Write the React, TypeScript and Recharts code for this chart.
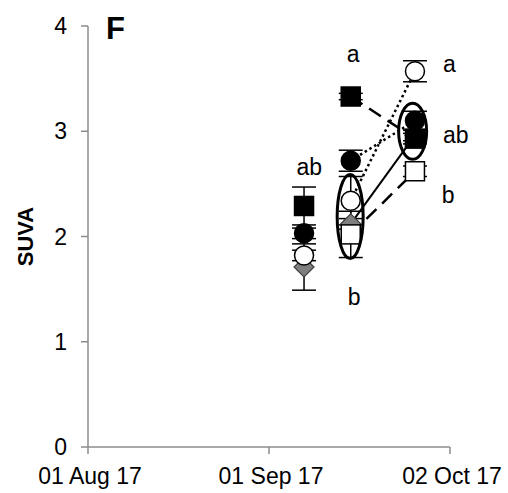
import React from "react";
import { ScatterChart, Scatter, XAxis, YAxis, ErrorBar } from "recharts";

// sampling days, counted from 01 Aug 17
const days = [37, 45, 56];
const dateTicks = [0, 31, 62];
const dateLabels = ["01 Aug 17", "01 Sep 17", "02 Oct 17"];
const suvaTicks = [0, 1, 2, 3, 4];

const filledSquare = [2.29, 3.33, 2.93];
const filledSquareErr = [0.18, 0.03, 0.05];
const filledCircle = [2.03, 2.72, 3.1];
const filledCircleErr = [0.05, 0.1, 0.09];
const openCircle = [1.82, 2.34, 3.57];
const openCircleErr = [0.05, 0.23, 0.1];
const diamond = [1.71, 2.12, 2.96];
const diamondErr = [0.22, 0.05, 0.05];
const openSquare = [null, 2.02, 2.62];
const openSquareErr = [null, 0.22, 0.05];

// significance letters (left edge, baseline)
const letterText = ["a", "a", "ab", "b", "ab", "b"];
const letterDay = [44.3, 60.8, 60.8, 60.6, 35.7, 44.5];
const letterValue = [3.654, 3.56, 2.892, 2.32, 2.588, 1.35];

// circled groups
const ringDay = [44.9, 55.6];
const ringValue = [2.19, 3.0];
const ringSize = [
  { rx: 13, ry: 42 },
  { rx: 14, ry: 28 },
];

const font = "'Liberation Sans', Arial, sans-serif";
const axisGrey = "#8c8c8c";

const toPoints = (vals: (number | null)[], errs: (number | null)[]) =>
  days
    .map((d, i) => ({ day: d, v: vals[i], err: errs[i] }))
    .filter((p) => p.v != null);

const letters = letterText.map((t, i) => ({ day: letterDay[i], v: letterValue[i], text: t }));
const rings = ringDay.map((d, i) => ({ day: d, v: ringValue[i], idx: i }));

const circleShape = (fill: string) => (p: any) =>
  <circle cx={p.cx} cy={p.cy} r={9.5} fill={fill} stroke="#000" strokeWidth={1.5} />;

const squareShape = (fill: string) => (p: any) =>
  <rect x={p.cx - 9.5} y={p.cy - 9.5} width={19} height={19} fill={fill} stroke="#000" strokeWidth={1.5} />;

const diamondShape = (p: any) => (
  <polygon
    points={`${p.cx},${p.cy - 10} ${p.cx + 10},${p.cy} ${p.cx},${p.cy + 10} ${p.cx - 10},${p.cy}`}
    fill="#7f7f7f"
    stroke="#404040"
    strokeWidth={1.2}
  />
);

const noShape = () => <g />;

const App: React.FC = () => {
  const series = [
    { vals: diamond, errs: diamondErr, shape: diamondShape, line: { stroke: "#000", strokeWidth: 2 } },
    { vals: openSquare, errs: openSquareErr, shape: squareShape("#fff"), line: { stroke: "#000", strokeWidth: 2.5, strokeDasharray: "14 8" } },
    { vals: openCircle, errs: openCircleErr, shape: circleShape("#fff"), line: { stroke: "#000", strokeWidth: 2.5, strokeDasharray: "2.5 3" } },
    { vals: filledCircle, errs: filledCircleErr, shape: circleShape("#000"), line: { stroke: "#000", strokeWidth: 2.5, strokeDasharray: "2.5 3" } },
    { vals: filledSquare, errs: filledSquareErr, shape: squareShape("#000"), line: { stroke: "#000", strokeWidth: 2.5, strokeDasharray: "14 8" } },
  ];

  return (
    <div style={{ position: "absolute", left: 0, top: 0, width: 508, height: 493, fontFamily: font, background: "#fff" }}>
      <ScatterChart width={508} height={493} margin={{ top: 26, right: 58, bottom: 0, left: 0 }}>
        <XAxis
          type="number"
          dataKey="day"
          domain={[0, 62]}
          ticks={dateTicks}
          interval={0}
          tickFormatter={(d: number) => dateLabels[dateTicks.indexOf(d)]}
          height={46}
          tickSize={7}
          tickMargin={14}
          axisLine={{ stroke: axisGrey, strokeWidth: 1.5 }}
          tickLine={{ stroke: axisGrey, strokeWidth: 1.5 }}
          tick={{ fill: "#000", fontSize: 23, fontFamily: font, dx: 2 }}
        />
        <YAxis
          type="number"
          dataKey="v"
          domain={[0, 4]}
          ticks={suvaTicks}
          interval={0}
          width={88}
          tickSize={7}
          tickMargin={14}
          axisLine={{ stroke: axisGrey, strokeWidth: 1.5 }}
          tickLine={{ stroke: axisGrey, strokeWidth: 1.5 }}
          tick={{ fill: "#000", fontSize: 23, fontFamily: font }}
          label={(props: any) => {
            const vb = props.viewBox;
            const x = vb.x + 25;
            const y = vb.y + vb.height / 2;
            return (
              <text
                x={x}
                y={y}
                transform={`rotate(-90, ${x}, ${y})`}
                textAnchor="middle"
                dominantBaseline="central"
                fontWeight="bold"
                fontSize={22}
                fontFamily={font}
                fill="#000"
              >
                SUVA
              </text>
            );
          }}
        />

        {series.map((s, i) => (
          <Scatter
            key={`line-${i}`}
            data={toPoints(s.vals, s.errs).slice(-2)}
            line={s.line}
            lineType="joint"
            shape={noShape}
            isAnimationActive={false}
          />
        ))}

        {series.map((s, i) => (
          <Scatter key={`err-${i}`} data={toPoints(s.vals, s.errs)} shape={noShape} isAnimationActive={false}>
            <ErrorBar dataKey="err" direction="y" width={12} stroke="#000" strokeWidth={1.5} />
          </Scatter>
        ))}

        {series.map((s, i) => (
          <Scatter key={`pts-${i}`} data={toPoints(s.vals, s.errs)} shape={s.shape} isAnimationActive={false} />
        ))}

        <Scatter
          data={rings}
          isAnimationActive={false}
          shape={(p: any) => (
            <ellipse
              cx={p.cx}
              cy={p.cy}
              rx={ringSize[p.payload.idx].rx}
              ry={ringSize[p.payload.idx].ry}
              fill="none"
              stroke="#000"
              strokeWidth={3}
            />
          )}
        />

        <Scatter
          data={letters}
          isAnimationActive={false}
          shape={(p: any) => (
            <text x={p.cx} y={p.cy} textAnchor="start" fontSize={23} fontFamily={font} fill="#000">
              {p.payload.text}
            </text>
          )}
        />
      </ScatterChart>
      <div
        style={{
          position: "absolute",
          left: 106,
          top: 13,
          fontSize: 31,
          lineHeight: "31px",
          fontWeight: "bold",
          fontFamily: font,
        }}
      >
        F
      </div>
    </div>
  );
};

export default App;
